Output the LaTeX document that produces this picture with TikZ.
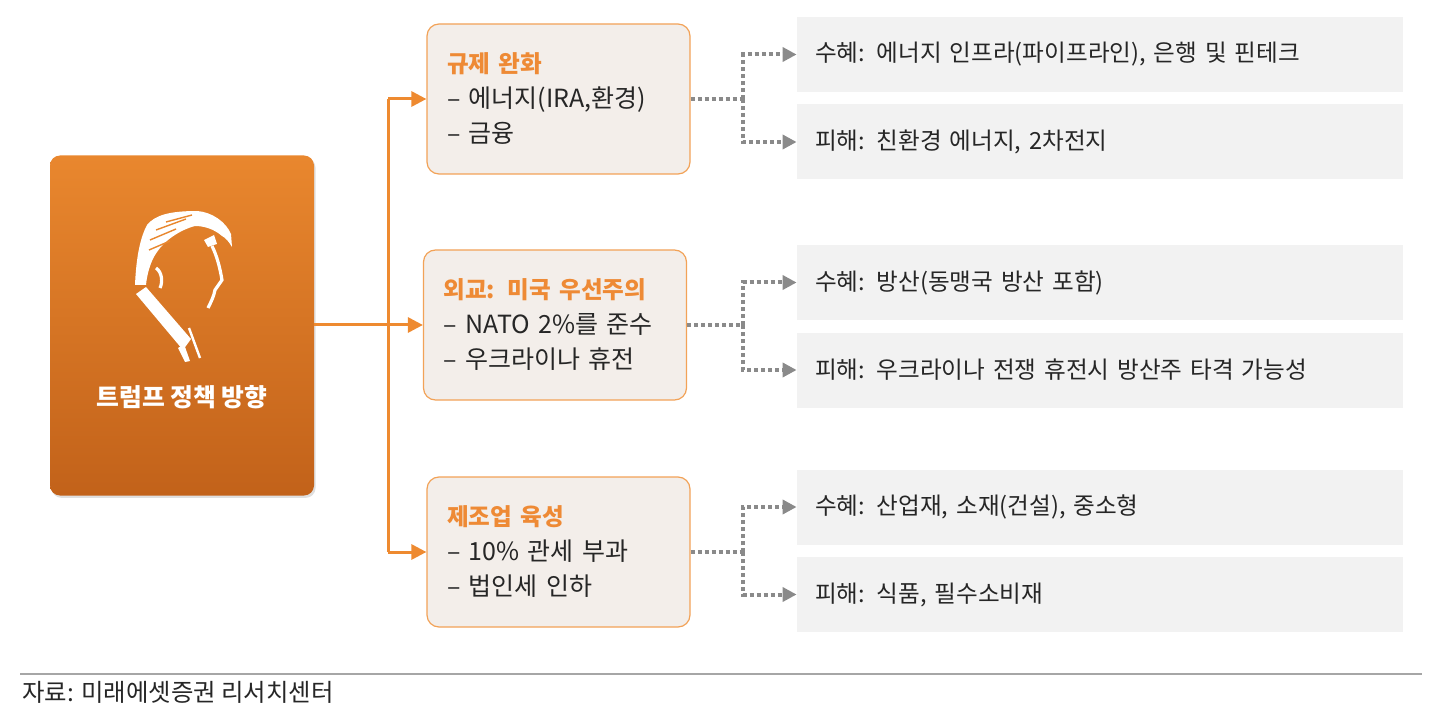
\documentclass[tikz,border=0pt]{standalone}
\usepackage{fontspec}
\setmainfont{Noto Sans CJK KR}
\usetikzlibrary{arrows.meta,shadows}
\definecolor{leadtop}{HTML}{E9872E}
\definecolor{leadbot}{HTML}{C2621A}
\definecolor{linkorange}{HTML}{EE8A30}
\definecolor{boxedge}{HTML}{F2A257}
\definecolor{boxfill}{HTML}{F3EEEA}
\definecolor{headorange}{HTML}{EE8A35}
\definecolor{fxfill}{HTML}{F2F2F2}
\definecolor{dotgray}{HTML}{8A8A8A}
\definecolor{txtdark}{HTML}{262626}
\newcommand{\policyhead}[1]{{\color{headorange}\fontsize{11.8}{17.5}\selectfont\bfseries #1}}
\tikzset{
  policybox/.style={draw=boxedge, line width=0.6pt, fill=boxfill, rounded corners=6pt,
    minimum width=131.5pt, minimum height=75pt, text width=111.5pt, inner xsep=10pt,
    align=left, text=txtdark, font=\fontsize{12.5}{17.5}\selectfont},
  effectbox/.style={fill=fxfill, minimum width=303pt, minimum height=37.5pt,
    text width=285pt, inner xsep=9pt, align=left, text=txtdark,
    font=\fontsize{11.8}{14}\selectfont},
  orangelink/.style={draw=linkorange, line width=1.5pt},
  orangearrow/.style={orangelink, -{Triangle[length=7.5pt,width=7.5pt]}},
  dotlink/.style={draw=dotgray, line width=2pt, dash pattern=on 2pt off 1.5pt},
  dotarrow/.style={dotlink, -{Triangle[length=7pt,width=7pt]}},
}
\begin{document}
\begin{tikzpicture}[x=0.5pt, y=-0.5pt]
\useasboundingbox (0,0) rectangle (1435,711);
% lead box
\node[top color=leadtop, bottom color=leadbot, rounded corners=5pt,
  minimum width=132pt, minimum height=170pt,
  drop shadow={opacity=0.25, shadow xshift=0.8pt, shadow yshift=-1.2pt}] (lead) at (182,325.5) {};
\node[text=white, font=\fontsize{12.4}{15}\selectfont\bfseries] (leadtitle) at (182,397) {트럼프 정책 방향};
% silhouette
\fill[white] (135,285) .. controls (136,262) and (139,240) .. (147,225)
  .. controls (155,215) and (170,211) .. (197,211)
  .. controls (212,212) and (226,222) .. (231,234)
  -- (232,247) .. controls (229,242) and (226,238) .. (222,236)
  .. controls (214,229) and (204,226) .. (195,226)
  .. controls (180,230) and (165,240) .. (157,252)
  .. controls (150,262) and (147,275) .. (146,285) -- cycle;
\draw[leadtop, line width=0.7pt] (150,240) -- (176,229) (149,250) -- (170,241)
  (156,230) -- (186,219) (166,222) -- (192,215);
\fill[white] (204,240) -- (214,235) -- (217,244) -- (208,247) -- cycle;
\draw[white, line width=1.6pt] (212,246) .. controls (217,256) and (220,268) .. (222,280)
  -- (215,290) .. controls (214,296) and (211,302) .. (208,308);
\draw[white, line width=1.6pt] (156,268) .. controls (162,272) and (163,282) .. (160,288);
\fill[white] (136,294) -- (146,287) -- (191,339) -- (183,350) -- cycle;
\fill[white] (178,348) -- (184,344) -- (190,361) -- (185,362) -- cycle;
\draw[white, line width=1.2pt] (189,328) -- (200,358);
% policy boxes
\node[policybox] (reg) at (558.5,99) {\policyhead{규제 완화}\\– 에너지(IRA,환경)\\– 금융};
\node[policybox] (dip) at (555,325) {\policyhead{외교: 미국 우선주의}\\– NATO 2\%를 준수\\– 우크라이나 휴전};
\node[policybox] (mfg) at (558.5,552) {\policyhead{제조업 육성}\\– 10\% 관세 부과\\– 법인세 인하};
% effect boxes
\node[effectbox] (regup) at (1100,54.5) {수혜: 에너지 인프라(파이프라인), 은행 및 핀테크};
\node[effectbox] (regdn) at (1100,142) {피해: 친환경 에너지, 2차전지};
\node[effectbox] (dipup) at (1100,282.5) {수혜: 방산(동맹국 방산 포함)};
\node[effectbox] (dipdn) at (1100,370) {피해: 우크라이나 전쟁 휴전시 방산주 타격 가능성};
\node[effectbox] (mfgup) at (1100,507) {수혜: 산업재, 소재(건설), 중소형};
\node[effectbox] (mfgdn) at (1100,594.5) {피해: 식품, 필수소비재};
% orange links
\coordinate (hub) at (388,325);
\draw[orangearrow] (lead.east |- dip.west) -- (dip.west);
\draw[orangelink] (hub |- reg.west) -- (hub |- mfg.west);
\draw[orangearrow] (hub |- reg.west) -- (reg.west);
\draw[orangearrow] (hub |- mfg.west) -- (mfg.west);
% dotted links
\foreach \src/\up/\dn in {reg/regup/regdn, dip/dipup/dipdn, mfg/mfgup/mfgdn}{
  \draw[dotlink] (\src.east) -- (743,0 |- \src.east) coordinate (\src split);
  \draw[dotarrow] (\src split) |- (\up.west);
  \draw[dotarrow] (\src split) |- (\dn.west);
}
% footer
\draw[gray!70, line width=0.6pt] (20,674) -- (1422,674);
\node[anchor=west, inner sep=0pt, text=txtdark, font=\fontsize{12.2}{14}\selectfont] (source) at (22,692) {자료: 미래에셋증권 리서치센터};
\end{tikzpicture}
\end{document}
